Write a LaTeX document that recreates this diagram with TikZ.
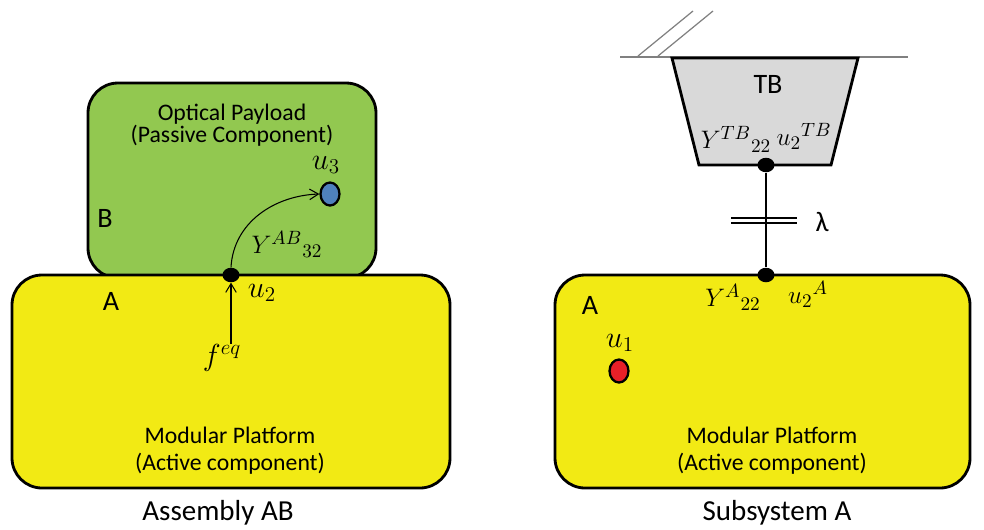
\documentclass[tikz,border=0pt]{standalone}
\usepackage{fontspec}
\setmainfont{Carlito}
\usetikzlibrary{arrows.meta,shapes.geometric}
\definecolor{platyellow}{RGB}{242,234,20}
\definecolor{payloadgreen}{RGB}{146,200,80}
\definecolor{tbgray}{RGB}{217,217,217}
\definecolor{dotblue}{RGB}{79,129,189}
\definecolor{dotred}{RGB}{232,32,40}

\begin{document}
\begin{tikzpicture}[x=0.02cm, y=-0.02cm,
    block/.style={draw=black, line width=1.6pt, rounded corners=0.6cm},
    junction/.style={ellipse, fill=black, inner sep=0pt, minimum width=0.34cm, minimum height=0.29cm},
    dof/.style={ellipse, draw=black, line width=1.3pt, inner sep=0pt, minimum width=0.38cm, minimum height=0.46cm},
    lbl/.style={font=\fontsize{13.5}{12.5}\selectfont, align=center, inner sep=0pt},
    big/.style={font=\fontsize{16}{18}\selectfont},
    mth/.style={font=\fontsize{17}{19}\selectfont, inner sep=0pt},
    ymth/.style={font=\fontsize{15.5}{18}\selectfont, inner sep=1pt},
    link/.style={line width=0.6pt, -{Straight Barb[length=5pt,width=6pt]}}]
  \useasboundingbox (0,0) rectangle (984,529);

  % assembly AB
  \draw[block, fill=payloadgreen] (88,83) rectangle (376,278);
  \draw[block, fill=platyellow] (12,275) rectangle (450,488);
  \node[lbl] (payload) at (232,125) {Optical Payload\\(Passive Component)};
  \node[big] (labB) at (105,218) {B};
  \node[big] (labA) at (111,301) {A};
  \node[lbl, font=\fontsize{13.5}{15.3}\selectfont] (platAB) at (230,451) {Modular Platform\\(Active component)};
  \node[junction] (u2) at (231,275) {};
  \node[dof, fill=dotblue] (u3) at (330,194) {};
  \node[mth] (u3lbl) at (326,165) {$u_3$};
  \node[mth] (u2lbl) at (262,293) {$u_2$};
  \node[ymth] (Yab) at (287,244) {$Y^{AB}{}_{32}$};
  \node[mth] (feq) at (222,358) {$f^{eq}$};
  \draw[link] (feq.north -| u2.south) -- (u2.south);
  \draw[link] (u2.north) to[out=87, in=182] (u3.west);
  \node[font=\fontsize{16.5}{19}\selectfont] (capAB) at (218,513) {Assembly AB};

  % subsystem A
  \draw[gray, line width=0.7pt] (620,57) -- (908,57);
  \foreach \x in {638,658}
    \draw[gray, line width=0.7pt] (\x,56) -- ++(55,-45);
  \draw[black, line width=1.6pt, fill=tbgray] (672,58) -- (858,58) -- (831,165) -- (699,165) -- cycle;
  \node[big] (tb) at (768,84) {TB};
  \node[ymth] (Ytb) at (736,139) {$Y^{TB}{}_{22}$};
  \node[ymth] (u2tb) at (804,136) {$u_2{}^{TB}$};
  \draw[block, fill=platyellow] (555,275) rectangle (970,488);
  \node[junction] (tbdot) at (766,165) {};
  \node[junction] (adot) at (766,275) {};
  \draw[line width=0.6pt] (tbdot) -- (adot);
  \draw[line width=0.6pt] (731,218) -- (797,218) (731,223) -- (797,223);
  \node[big] (lam) at (822,222) {λ};
  \node[ymth] (Ya) at (733,297) {$Y^{A}{}_{22}$};
  \node[ymth] (u2a) at (808,294) {$u_2{}^{A}$};
  \node[big] (labA2) at (590,305) {A};
  \node[mth] (u1lbl) at (620,343) {$u_1$};
  \node[dof, fill=dotred] (u1) at (619,371) {};
  \node[lbl, font=\fontsize{13.5}{15.3}\selectfont] (platA) at (772,451) {Modular Platform\\(Active component)};
  \node[font=\fontsize{16.5}{19}\selectfont] (capA) at (777,513) {Subsystem A};
\end{tikzpicture}
\end{document}
